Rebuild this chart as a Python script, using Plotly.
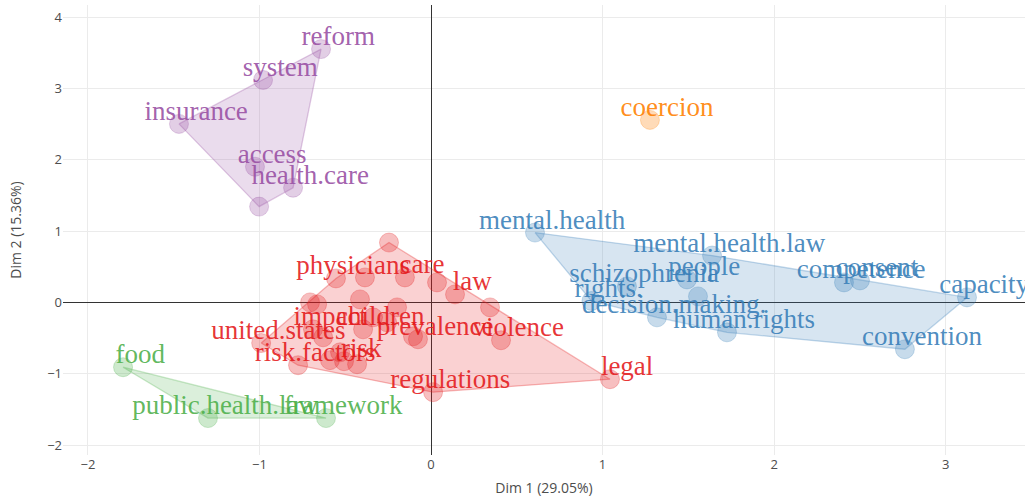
import plotly.graph_objects as go

# ---------------- data ----------------
purple_terms = ["reform", "system", "insurance", "access", "health.care", ""]
purple_x = [-0.641, -0.979, -1.469, -1.026, -0.804, -1.002]
purple_y = [3.552, 3.119, 2.503, 1.902, 1.608, 1.343]

orange_terms = ["coercion"]
orange_x = [1.276]
orange_y = [2.559]

green_terms = ["food", "public.health.law", "framework"]
green_x = [-1.795, -1.300, -0.612]
green_y = [-0.909, -1.622, -1.622]

blue_terms = ["mental.health", "mental.health.law", "people", "schizophrenia", "rights.",
              "decision.making.", "human.rights", "competence", "consent", "capacity",
              "convention", ""]
blue_x = [0.606, 1.638, 1.492, 1.142, 0.935, 1.317, 1.725, 2.407, 2.500, 3.124, 2.762, 1.556]
blue_y = [0.979, 0.657, 0.322, 0.224, 0.020, -0.210, -0.420, 0.280, 0.308, 0.070, -0.657, 0.084]

red_terms = ["physicians", "care", "law", "violence", "prevalence", "legal", "regulations",
             "united.states", "risk.factors", "risk", "impact", "children",
             "", "", "", "", "", "", "", "", "", "", "", "", "", "", ""]
red_x = [-0.554, -0.152, 0.140, 0.408, -0.076, 1.043, 0.012,
         -0.990, -0.775, -0.507, -0.688, -0.396,
         -0.245, -0.385, 0.035, 0.344, -0.664, -0.414, -0.198, -0.338,
         -0.431, -0.256, -0.105, -0.629, -0.705, -0.589, -0.530]
red_y = [0.336, 0.350, 0.112, -0.531, -0.517, -1.077, -1.259,
         -0.570, -0.881, -0.825, -0.378, -0.378,
         0.839, 0.350, 0.280, -0.070, -0.028, 0.042, -0.070, -0.210,
         -0.867, -0.280, -0.476, -0.490, 0.000, -0.810, -0.700]

x_ticks = [-2, -1, 0, 1, 2, 3]
y_ticks = [-2, -1, 0, 1, 2, 3, 4]
x_title = "Dim 1 (29.05%)"
y_title = "Dim 2 (15.36%)"

clusters = [
    (purple_terms, purple_x, purple_y, (152, 78, 163)),
    (green_terms, green_x, green_y, (77, 175, 74)),
    (blue_terms, blue_x, blue_y, (55, 126, 184)),
    (red_terms, red_x, red_y, (228, 26, 28)),
    (orange_terms, orange_x, orange_y, (255, 127, 0)),
]

LABEL_DX = 0.10
LABEL_DY = 0.15


def convex_hull(pts):
    pts = sorted(set(pts))
    if len(pts) <= 2:
        return pts

    def cross(o, a, b):
        return (a[0] - o[0]) * (b[1] - o[1]) - (a[1] - o[1]) * (b[0] - o[0])

    lower = []
    for p in pts:
        while len(lower) >= 2 and cross(lower[-2], lower[-1], p) <= 0:
            lower.pop()
        lower.append(p)
    upper = []
    for p in reversed(pts):
        while len(upper) >= 2 and cross(upper[-2], upper[-1], p) <= 0:
            upper.pop()
        upper.append(p)
    return lower[:-1] + upper[:-1]


fig = go.Figure()

# hulls
for terms, xs, ys, (r, g, b) in clusters:
    if len(xs) < 3:
        continue
    hull = convex_hull(list(zip(xs, ys)))
    hx = [p[0] for p in hull] + [hull[0][0]]
    hy = [p[1] for p in hull] + [hull[0][1]]
    fig.add_trace(go.Scatter(
        x=hx, y=hy, mode="lines", fill="toself",
        fillcolor=f"rgba({r},{g},{b},0.2)",
        line=dict(color=f"rgba({r},{g},{b},0.3)", width=1.3),
        hoverinfo="skip", showlegend=False))

# points
for terms, xs, ys, (r, g, b) in clusters:
    fig.add_trace(go.Scatter(
        x=xs, y=ys, mode="markers",
        marker=dict(size=19, color=f"rgba({r},{g},{b},0.28)",
                    line=dict(color=f"rgba({r},{g},{b},0.25)", width=1)),
        hoverinfo="skip", showlegend=False))

# labels
for terms, xs, ys, (r, g, b) in clusters:
    lx = [x + LABEL_DX for x, t in zip(xs, terms) if t]
    ly = [y + LABEL_DY for y, t in zip(ys, terms) if t]
    lt = [t for t in terms if t]
    fig.add_trace(go.Scatter(
        x=lx, y=ly, mode="text", text=lt, textposition="middle center",
        textfont=dict(family="Liberation Serif, Times New Roman, serif", size=27,
                      color=f"rgba({r},{g},{b},0.9)"),
        hoverinfo="skip", showlegend=False))

axis_common = dict(
    showgrid=True, gridcolor="#ebebeb", gridwidth=1,
    zeroline=True, zerolinecolor="#333333", zerolinewidth=1,
    showline=False, ticks="", automargin=False,
    tickfont=dict(size=13, color="rgba(77,77,77,1)"),
    title_font=dict(size=14, color="rgba(77,77,77,1)"),
)

fig.update_layout(
    width=1025, height=497,
    paper_bgcolor="white", plot_bgcolor="white",
    margin=dict(l=63, r=0, t=5, b=42),
    showlegend=False,
    xaxis=dict(range=[-2.145, 3.462], tickvals=x_ticks, title=dict(text=x_title, standoff=11), **axis_common),
    yaxis=dict(range=[-2.14, 4.17], tickvals=y_ticks, title=dict(text=y_title, standoff=22), **axis_common),
)

fig.write_html("out.html", config={"displayModeBar": False},
               post_script="document.body.style.margin='0';document.body.style.overflow='hidden';")
